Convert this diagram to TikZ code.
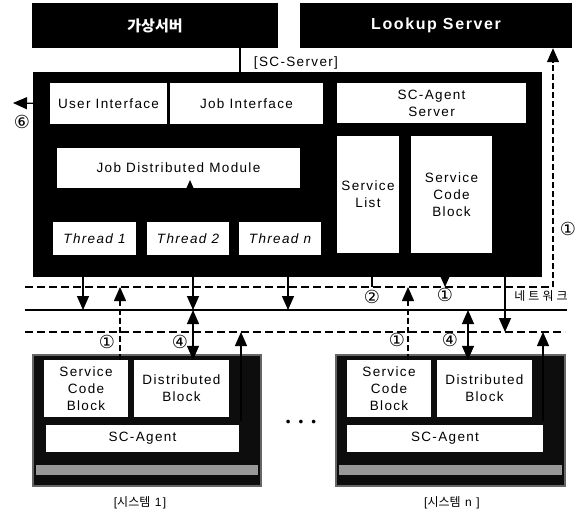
\documentclass[tikz,border=0pt]{standalone}
\usepackage{fontspec}
\setmainfont{Liberation Sans}[LetterSpace=10]
\newfontfamily\kor{Noto Sans CJK KR}
\newfontfamily\korwide{Noto Sans CJK KR}[LetterSpace=25]
\newfontfamily\sym{DejaVu Sans}
\usetikzlibrary{arrows.meta}
\tikzstyle{topbox} = [rectangle, fill=black, text=white, inner sep=0pt,
font=\fontsize{16}{18}\selectfont]
\tikzstyle{server} = [rectangle, fill=black, inner sep=0pt]
\tikzstyle{module} = [rectangle, fill=white, inner sep=0pt,
text centered, align=center]
\tikzstyle{thread} = [module, font=\fontsize{13.5}{17}\selectfont\itshape]
\tikzstyle{system} = [rectangle, fill=black!95, draw=black!60,
line width=2pt, inner sep=0pt]
\tikzstyle{strip} = [rectangle, fill=black!40, inner sep=0pt]
\tikzstyle{num} = [inner sep=0pt, font=\sym\fontsize{18}{18}\selectfont]
\tikzstyle{netline} = [line width=1.2pt]
\tikzstyle{dline} = [line width=1.2pt, dash pattern=on 8pt off 4pt]
\tikzstyle{arrow} = [line width=1.3pt,->,>={Triangle[length=14pt,width=12pt]}]
\tikzstyle{darrow} = [arrow, dash pattern=on 6pt off 3pt]
\tikzstyle{dual} = [arrow, <->]

\begin{document}
\begin{tikzpicture}[x=1pt, y=-1pt, font=\fontsize{13.5}{17}\selectfont]
        \useasboundingbox (0,0) rectangle (577,511);

        % servers on top
        \node (vserver) [topbox, minimum width=246pt, minimum height=45pt] at (155,25.5) {\kor\bfseries\fontsize{15}{17}\selectfont 가상서버};
        \node (lookup) [topbox, minimum width=272pt, minimum height=45pt] at (436,25.5) {\bfseries Lookup Server};

        % SC-Server
        \node (scserver) [server, minimum width=509pt, minimum height=205pt] at (287.5,174.5) {};
        \node (sclabel) [inner sep=0pt] at (296,63) {[SC-Server]};
        \draw [netline] ([xshift=85pt]vserver.south) -- ([xshift=85pt]vserver.south |- scserver.north);

        \node (ui) [module, minimum width=117pt, minimum height=41pt] at (108.5,103.5) {User Interface};
        \node (ji) [module, minimum width=153pt, minimum height=41pt] at (246.5,103.5) {Job Interface};
        \node (agsrv) [module, minimum width=189pt, minimum height=40pt] at (431.5,103) {SC-Agent\\Server};
        \node (jdm) [module, minimum width=243pt, minimum height=40pt] at (178.5,168) {Job Distributed Module};
        \node (t1) [thread, minimum width=83pt, minimum height=33pt] at (94.5,238.5) {Thread 1};
        \node (t2) [thread, minimum width=82pt, minimum height=33pt] at (188,238.5) {Thread 2};
        \node (tn) [thread, minimum width=82pt, minimum height=33pt] at (280,238.5) {Thread n};
        \node (slist) [module, minimum width=62pt, minimum height=117pt] at (368,194.5) {Service\\List};
        \node (scb) [module, minimum width=81pt, minimum height=117pt] at (451.5,194.5) {Service\\Code\\Block};

        \coordinate (jdmin) at (190,180);
        \draw [arrow] (t2.north -| jdmin) -- (jdmin);
        \coordinate (uiout) at (13,103);
        \draw [arrow] (ui.west) -- (uiout);
        \node (c6) [num] at (22,122) {⑥};

        % systems
        \node (sys1) [system, minimum width=228pt, minimum height=131pt] at (147,420.5) {};
        \node (s1strip) [strip, minimum width=222pt, minimum height=10pt] at (147,470) {};
        \node (s1scb) [module, minimum width=84pt, minimum height=57pt] at (86,388.5) {Service\\Code\\Block};
        \node (s1db) [module, minimum width=95pt, minimum height=57pt] at (181.5,388.5) {Distributed\\Block};
        \node (s1ag) [module, minimum width=193pt, minimum height=27pt] at (142.5,438.5) {SC-Agent};

        \node (sysn) [system, minimum width=229pt, minimum height=131pt] at (450.5,420.5) {};
        \node (snstrip) [strip, minimum width=223pt, minimum height=10pt] at (450.5,470) {};
        \node (snscb) [module, minimum width=84pt, minimum height=57pt] at (389,388.5) {Service\\Code\\Block};
        \node (sndb) [module, minimum width=95pt, minimum height=57pt] at (484.5,388.5) {Distributed\\Block};
        \node (snag) [module, minimum width=196pt, minimum height=27pt] at (445,438.5) {SC-Agent};

        \node (dots) [inner sep=0pt] at (301,423) {\textbullet\hspace{8pt}\textbullet\hspace{8pt}\textbullet};
        \node (lab1) [inner sep=0pt, font=\fontsize{12}{14}\selectfont] at (140,503) {[{\kor 시스템} 1]};
        \node (labn) [inner sep=0pt, font=\fontsize{12}{14}\selectfont] at (452,503) {[{\kor 시스템} n ]};

        % network
        \coordinate (n1w) at (25,287);
        \coordinate (n1e) at (553,287);
        \coordinate (n2w) at (25,310);
        \coordinate (n2e) at (567,310);
        \coordinate (n3w) at (25,332);
        \coordinate (n3e) at (565,332);
        \draw [dline] (n1w) -- (n1e);
        \draw [darrow] (n1e) -- (n1e |- lookup.south);
        \draw [netline] (n2w) -- (n2e);
        \draw [dline] (n3w) -- (n3e);
        \node (net) [inner sep=0pt, font=\korwide\fontsize{12}{12}\selectfont] at (541,296) {네트워크};
        \node (c1r) [num] at (568,229) {①};

        % server to network
        \coordinate (d1) at (83,310);
        \coordinate (d2) at (193,310);
        \coordinate (d3) at (288,310);
        \coordinate (d4) at (372,287);
        \coordinate (d5) at (445,287);
        \coordinate (d6) at (505,332);
        \coordinate (d7) at (468,310);
        \draw [arrow] (scserver.south -| d1) -- (d1);
        \draw [arrow] (scserver.south -| d2) -- (d2);
        \draw [arrow] (scserver.south -| d3) -- (d3);
        \draw [netline] (scserver.south -| d4) -- (d4);
        \draw [arrow] (scserver.south -| d5) -- (d5);
        \draw [arrow] (scserver.south -| d6) -- (d6);
        \node (c2) [num] at (372,297) {②};
        \node (c1s) [num] at (445,295) {①};

        % systems to network
        \coordinate (u1) at (120,287);
        \coordinate (u2) at (241,332);
        \coordinate (u3) at (408,287);
        \coordinate (u4) at (543,332);
        \draw [darrow] (s1scb.north -| u1) -- (u1);
        \draw [dual] (d2) -- (s1db.north -| d2);
        \draw [arrow] (sys1.center -| u2) -- (u2);
        \draw [darrow] (snscb.north -| u3) -- (u3);
        \draw [dual] (d7) -- (sndb.north -| d7);
        \draw [arrow] (sysn.center -| u4) -- (u4);
        \node (c1a) [num] at (107,342) {①};
        \node (c4a) [num] at (180,342) {④};
        \node (c1b) [num] at (397,340) {①};
        \node (c4b) [num] at (450,340) {④};

\end{tikzpicture}
\end{document}
